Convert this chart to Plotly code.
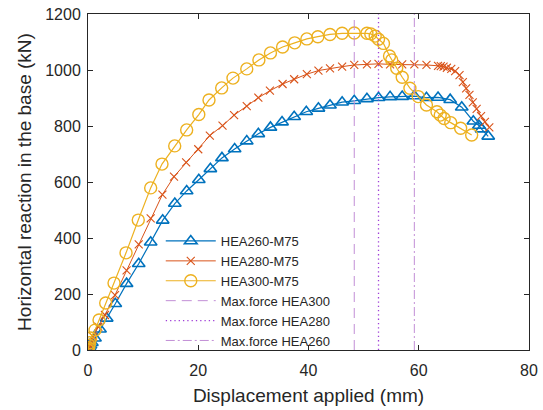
import plotly.graph_objects as go

# Displacement (mm) and horizontal base reaction (kN) for each section
disp_hea260 = [0, 0.1, 0.25, 0.45, 0.7, 1.27, 2.18, 3.39, 4.95, 7.0, 9.2, 11.37, 13.55, 15.75,
               17.9, 20.1, 22.2, 24.3, 26.6, 28.8, 30.9, 33.1, 35.2, 37.4, 39.6, 41.8, 43.9,
               46.1, 48.3, 50.6, 52.7, 54.8, 57.0, 59.2, 61.4, 63.5, 65.7, 67.8, 69.9, 70.9,
               71.4, 72.6]
force_hea260 = [0, 4, 10, 17, 26, 42, 74, 113, 165, 237, 308, 385, 463, 523,
                568, 608, 647, 686, 718, 746, 772, 795, 814, 833, 851, 863, 874,
                885, 890, 897, 901, 904, 905, 907, 901, 902, 894, 867, 817, 802,
                789, 763]

disp_hea280 = [0, 0.1, 0.25, 0.45, 0.96, 1.87, 3.08, 4.9, 7.0, 9.2, 11.37, 13.5, 15.6, 17.8,
               20.0, 22.1, 24.4, 26.5, 28.8, 30.9, 33.0, 35.3, 37.4, 39.7, 41.8, 43.9,
               46.1, 48.3, 50.6, 52.7, 54.8, 57.0, 59.2, 61.4, 63.5, 64.0, 64.5, 65.1,
               65.9, 66.6, 67.4, 68.0, 68.6, 69.2, 69.8, 70.5, 71.3, 72.0, 72.8]
force_hea280 = [0, 5, 12, 22, 47, 83, 125, 196, 284, 377, 470, 555, 619, 670,
                717, 766, 801, 839, 871, 901, 926, 950, 967, 985, 998, 1006,
                1012, 1018, 1020, 1022, 1020, 1020, 1020, 1018, 1015, 1014, 1012, 1008,
                1004, 996, 982, 957, 934, 911, 884, 861, 835, 815, 795]

disp_hea300 = [0, 0.1, 0.2, 0.3, 0.49, 1.27, 2.0, 3.21, 4.72, 6.9, 9.12, 11.37, 13.42, 15.73,
               17.9, 20.1, 21.95, 24.25, 26.3, 28.8, 31.0, 33.1, 35.3, 37.5, 39.7, 41.7,
               43.9, 46.1, 48.3, 50.6, 51.3, 52.1, 52.7, 53.6, 54.7, 55.1, 56.0, 57.0,
               58.4, 59.9, 61.4, 63.3, 63.9, 64.6, 65.8, 67.6, 69.6]
force_hea300 = [0, 8, 17, 26, 43, 71, 107, 168, 239, 347, 464, 579, 664, 729,
                786, 841, 893, 936, 971, 1004, 1036, 1061, 1082, 1097, 1111, 1119,
                1127, 1131, 1132, 1131, 1129, 1121, 1110, 1095, 1050, 1036, 1006, 974,
                935, 905, 875, 851, 839, 827, 812, 792, 768]

# Displacement at maximum force for each section
max_disp = {"HEA300": 48.3, "HEA280": 52.7, "HEA260": 59.2}

x_ticks = [0, 20, 40, 60, 80]
y_ticks = [0, 200, 400, 600, 800, 1000, 1200]

BLUE = "#0072BD"
ORANGE = "#D95319"
YELLOW = "#EDB120"
LILAC = "#C28FD6"
PURPLE = "#A040D8"
AXIS = "#262626"
FONT = "Liberation Sans, Arial, sans-serif"

fig = go.Figure()

fig.add_trace(go.Scatter(
    x=disp_hea260, y=force_hea260, name="HEA260-M75", mode="lines+markers",
    line=dict(color=BLUE, width=1.2),
    marker=dict(symbol="triangle-up-open", size=11, color=BLUE, line=dict(width=1.6, color=BLUE)),
))
fig.add_trace(go.Scatter(
    x=disp_hea280, y=force_hea280, name="HEA280-M75", mode="lines+markers",
    line=dict(color=ORANGE, width=1),
    marker=dict(symbol="x-thin-open", size=8, color=ORANGE, line=dict(width=1.1, color=ORANGE)),
))
fig.add_trace(go.Scatter(
    x=disp_hea300, y=force_hea300, name="HEA300-M75", mode="lines+markers",
    line=dict(color=YELLOW, width=1.2),
    marker=dict(symbol="circle-open", size=12, color=YELLOW, line=dict(width=1.4, color=YELLOW)),
))

vline_styles = [
    ("HEA300", LILAC, 1, "10px,6px"),
    ("HEA280", PURPLE, 1.3, "1.3px,3px"),
    ("HEA260", LILAC, 1, "9px,3px,2px,3px"),
]
for sec, col, w, dash in vline_styles:
    xv = max_disp[sec]
    fig.add_trace(go.Scatter(
        x=[xv, xv], y=[y_ticks[0], y_ticks[-1]], name="Max.force " + sec, mode="lines",
        line=dict(color=col, width=w, dash=dash),
    ))

axis_common = dict(
    showline=True, linecolor=AXIS, linewidth=1, mirror="ticks",
    ticks="inside", ticklen=5, tickcolor=AXIS, tickwidth=1,
    showgrid=False, zeroline=False, automargin=False,
    tickfont=dict(family=FONT, size=16, color=AXIS),
    title_font=dict(family=FONT, size=19, color=AXIS),
)

fig.update_xaxes(range=[0, 80], tickvals=x_ticks, title_text="Displacement applied (mm)",
                 title_standoff=10, ticklabelstandoff=6, **axis_common)
fig.update_yaxes(range=[0, 1200], tickvals=y_ticks,
                 title_text="Horizontal reaction in the base (kN)", title_standoff=8,
                 ticklabelstandoff=3, **axis_common)

fig.update_layout(
    width=543, height=410,
    margin=dict(l=88, r=14, t=14, b=60, autoexpand=False),
    paper_bgcolor="white", plot_bgcolor="white",
    font=dict(family=FONT, color=AXIS),
    legend=dict(
        x=0.165, y=0.369, xanchor="left", yanchor="top",
        bgcolor="rgba(0,0,0,0)", borderwidth=0,
        font=dict(family=FONT, size=13, color=AXIS),
        itemwidth=50, tracegroupgap=0,
    ),
)

fig.write_html("out.html")
